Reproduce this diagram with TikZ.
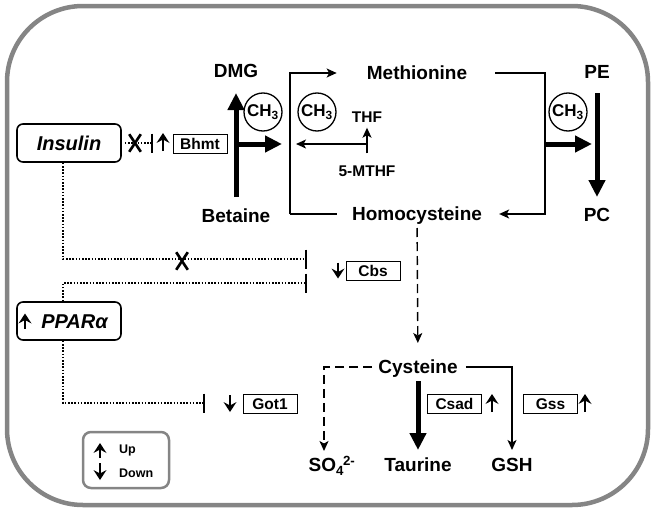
\documentclass[tikz,border=0pt]{standalone}
\usepackage{fontspec}
\setmainfont{Liberation Sans}
\usetikzlibrary{arrows.meta,positioning,shapes.misc}

\begin{document}
\begin{tikzpicture}[x=1pt,y=-1pt,
  met node/.style={font=\fontsize{19}{22}\selectfont\bfseries,inner sep=0pt,text height=13.6pt,text depth=0pt},
  small node/.style={font=\fontsize{15.5}{18}\selectfont\bfseries,inner sep=0pt,text height=11pt,text depth=0pt},
  gene box/.style={draw,line width=1pt,minimum width=54pt,minimum height=19pt,inner sep=0pt,text height=11pt,text depth=0pt,font=\fontsize{15.5}{18}\selectfont\bfseries},
  main box/.style={draw,rounded corners=6pt,line width=1.6pt,minimum width=104pt,minimum height=38pt,inner sep=0pt,text height=14.3pt,text depth=0pt,font=\fontsize{20}{24}\selectfont\bfseries\itshape},
  methyl node/.style={circle,draw,line width=1.3pt,minimum size=38pt,inner sep=0pt,font=\fontsize{17}{20}\selectfont\bfseries},
  cross node/.style={cross out,draw,line width=2.6pt,inner sep=0pt,minimum width=9pt,minimum height=15pt},
  thin arrow/.style={-{Stealth[length=10pt,width=9pt,inset=2.5pt]},line width=1.4pt},
  thick arrow/.style={-{Triangle[length=17pt,width=16pt]},line width=5pt},
  dash arrow/.style={thin arrow,dash pattern=on 9pt off 5pt},
  inhibit/.style={-{Bar[width=19pt,line width=1.6pt]},line width=1.6pt,dash pattern=on 1.6pt off 1.6pt},
  sign shaft/.style={line width=1.8pt},
  up sign/.pic={\draw[sign shaft] (0,#1) -- (0,{-#1+6});
    \fill (0,-#1) -- (6.5,{-#1+10}) -- (0,{-#1+6.5}) -- (-6.5,{-#1+10}) -- cycle;},
  down sign/.pic={\draw[sign shaft] (0,-#1) -- (0,{#1-6});
    \fill (0,#1) -- (6.5,{#1-10}) -- (0,{#1-6.5}) -- (-6.5,{#1-10}) -- cycle;}]

 \useasboundingbox (0,0) rectangle (656,514);
 \draw[line width=4.5pt,black!48,rounded corners=76pt] (7,6) rectangle (648,505);

 \node[met node] (dmg) at (236,71) {DMG};
 \node[met node] (bet) at (236,216) {Betaine};
 \node[met node] (met) at (417,73) {Methionine};
 \node[met node] (hcy) at (417,214) {Homocysteine};
 \node[met node] (pe) at (597,72) {PE};
 \node[met node] (pc) at (597,215) {PC};
 \node[small node] (thf) at (367,117) {THF};
 \node[small node] (mthf) at (367,171) {5-MTHF};
 \node[met node] (cys) at (418,367) {Cysteine};
 \node[met node] (so4) at (332,465) {SO\textsubscript{4}\kern-1pt\textsuperscript{2-}};
 \node[met node] (tau) at (418,465) {Taurine};
 \node[met node] (gsh) at (512,465) {GSH};

 \node[methyl node] (ch3a) at (263,112) {CH\textsubscript{3}};
 \node[methyl node] (ch3b) at (317,112) {CH\textsubscript{3}};
 \node[methyl node] (ch3c) at (568,112) {CH\textsubscript{3}};

 \node[main box] (ins) at (69,143) {Insulin};
 \node[main box] (ppar) at (69,321) {\hspace{11pt}PPARα};
 \node[gene box] (bhmt) at (200,144) {Bhmt};
 \node[gene box] (cbs) at (373,270.5) {Cbs};
 \node[gene box] (got) at (270,404) {Got1};
 \node[gene box] (csad) at (454.5,403.5) {Csad};
 \node[gene box] (gss) at (550.5,403.5) {Gss};

 \coordinate (lt) at (290,73);
 \coordinate (lb) at (290,214);
 \coordinate (rt) at (545,73);
 \coordinate (rb) at (545,214);
 \coordinate (bj) at (236,144);
 \coordinate (mj) at (367,144);
 \coordinate (pj) at (545,144);
 \coordinate (sl) at (324,367);
 \coordinate (sr) at (512,367);

 % methionine cycle
 \draw[thin arrow,shorten >=30pt] (lb) -- (lt) -- (met.west);
 \draw[line width=1.4pt,shorten <=15pt] (hcy.west) -- (lb);
 \draw[thin arrow,shorten <=28pt,shorten >=17pt] (met.east) -- (rt) -- (rb) -- (hcy.east);
 \draw[thick arrow,shorten <=12pt,shorten >=15pt] (bet) -- (dmg);
 \draw[thick arrow,shorten >=8pt] (bj) -- (bj -| lt);
 \draw[thin arrow,shorten <=12pt,shorten >=5pt] (mthf) -- (thf);
 \draw[thin arrow,shorten >=6pt] (mj) -- (mj -| lt);
 \draw[thick arrow,shorten <=14pt,shorten >=11pt] (pe) -- (pc);
 \draw[thick arrow,shorten >=5pt] (pj) -- (pj -| pe);

 % transsulfuration
 \draw[dash arrow,shorten <=7pt,shorten >=17pt] (hcy) -- (cys);
 \draw[dash arrow,shorten <=6pt] (cys.west) -- (sl) -- ([yshift=7pt]sl |- so4.north);
 \draw[thick arrow,shorten <=7pt,shorten >=8pt] (cys) -- (tau);
 \draw[thin arrow,shorten <=8pt,shorten >=8pt] (cys.east) -- (sr) -- (gsh);

 % regulation
 \coordinate (bbar) at (153,143);
 \coordinate (ic) at (63,259);
 \coordinate (cbar1) at (307,259);
 \coordinate (pc2) at (63,283);
 \coordinate (cbar2) at (307,283);
 \coordinate (gc) at (63,403);
 \coordinate (gbar) at (205,403);
 \draw[inhibit,shorten <=3pt] (ins) -- (bbar);
 \draw[inhibit] (ins.south -| ic) -- (ic) -- (cbar1);
 \draw[inhibit] (ppar.north -| pc2) -- (pc2) -- (cbar2);
 \draw[inhibit] (ppar.south -| gc) -- (gc) -- (gbar);
 \node[cross node] (x1) at (135,143) {};
 \node[cross node] (x2) at (182,261) {};

 \pic at (163,142) {up sign=9};
 \pic at (338,270.5) {down sign=8};
 \pic at (230,403.5) {down sign=8.5};
 \pic at (492,403) {up sign=9};
 \pic at (585,403) {up sign=9};
 \pic at (25,321) {up sign=7.5};

 % legend
 \node[draw=black!48,line width=2.5pt,rounded corners=8pt,minimum width=86pt,minimum height=56pt] (leg) at (126,460) {};
 \pic at (100,450.5) {up sign=7.5};
 \pic at (100,471.5) {down sign=8.5};
 \node[font=\fontsize{12.5}{15}\selectfont\bfseries,anchor=west,inner sep=0pt] (up) at (119,450) {Up};
 \node[font=\fontsize{12.5}{15}\selectfont\bfseries,anchor=west,inner sep=0pt] (down) at (119,473) {Down};

\end{tikzpicture}
\end{document}
